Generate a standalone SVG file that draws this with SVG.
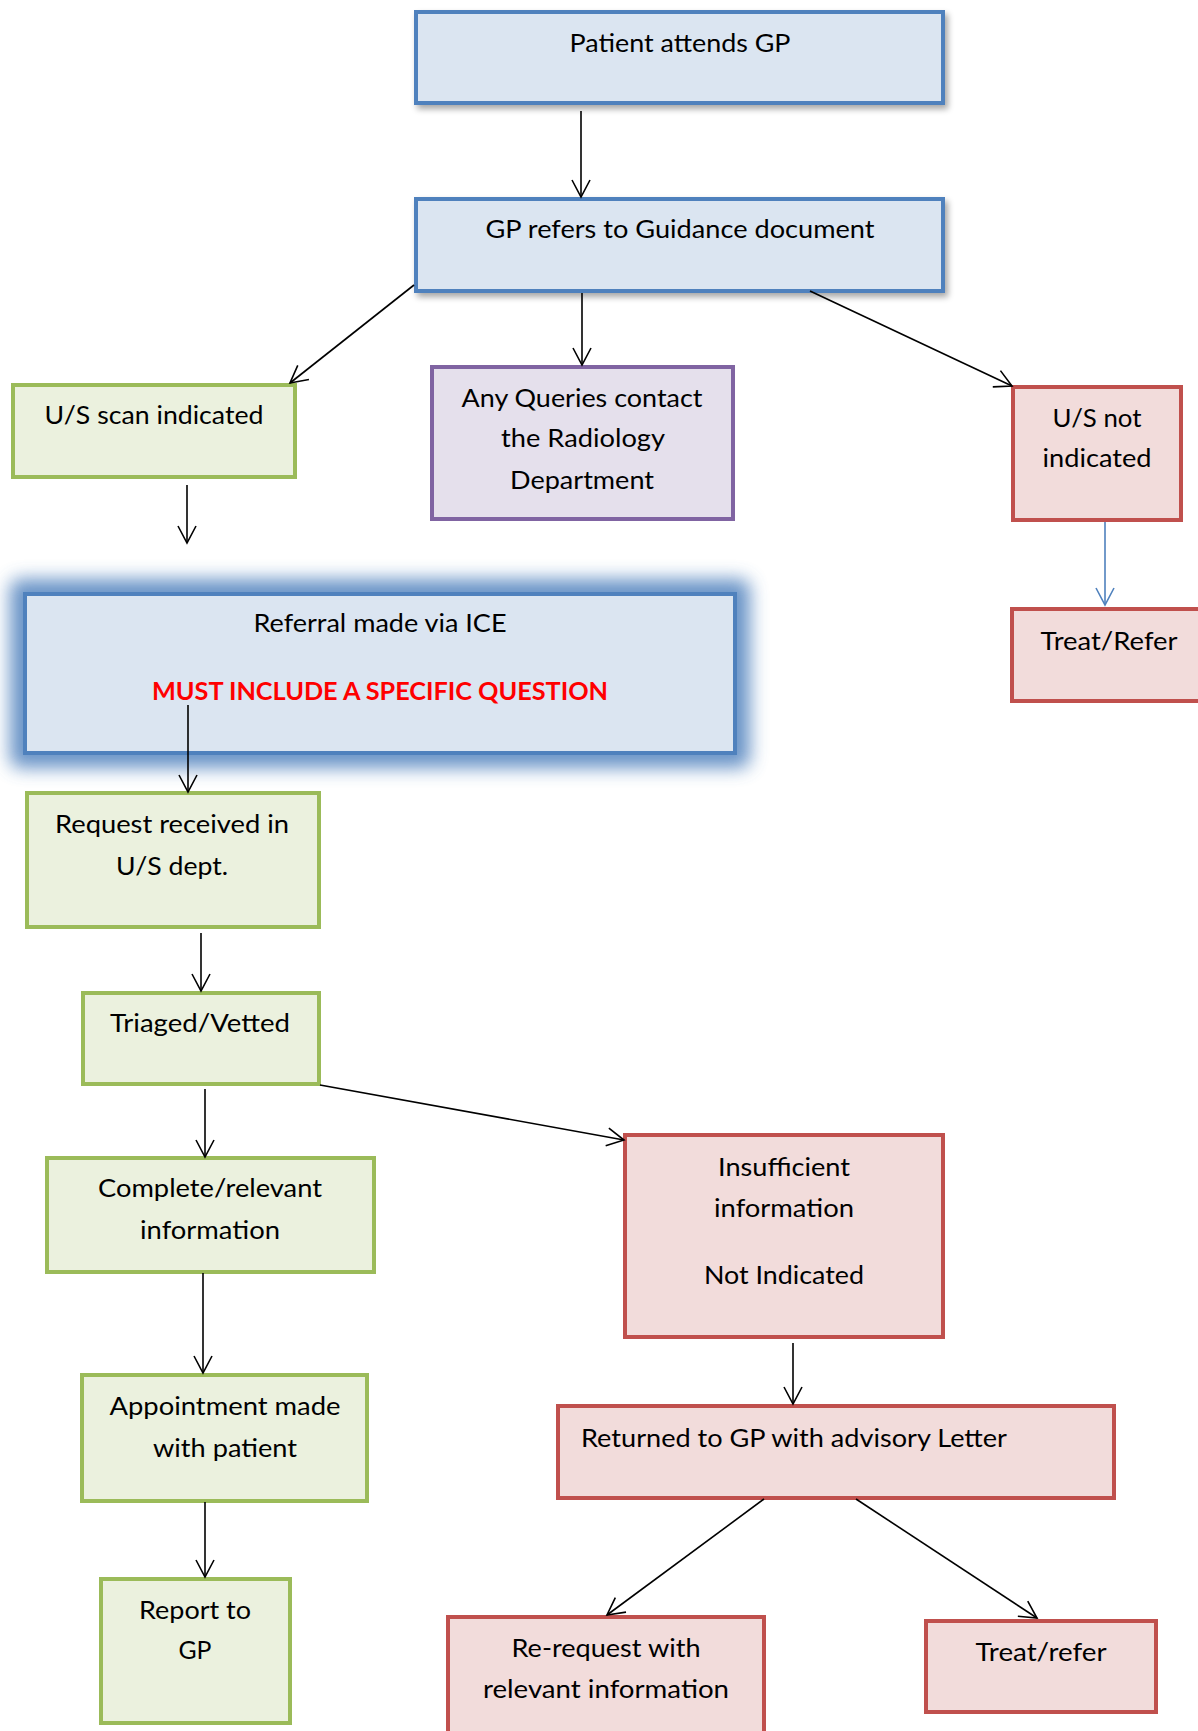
<svg xmlns="http://www.w3.org/2000/svg" width="1198" height="1731" viewBox="0 0 1198 1731">
<style>
.t{font-family:Lato,"Open Sans","Liberation Sans",sans-serif;font-size:25px;fill:#000;text-anchor:middle}
.r{font-weight:bold;fill:#FF0000}
.blue{fill:#DBE5F1;stroke:#4F81BD;stroke-width:4}
.green{fill:#EBF1DE;stroke:#9BBB59;stroke-width:4}
.red{fill:#F2DCDB;stroke:#C0504D;stroke-width:4}
.purple{fill:#E5E0EC;stroke:#8064A2;stroke-width:4}
.c{fill:none;stroke:#000;stroke-width:1.6;marker-end:url(#ah)}
.cb{fill:none;stroke:#4F81BD;stroke-width:1.6;marker-end:url(#ahb)}
</style>
<defs>
<marker id="ah" markerUnits="userSpaceOnUse" markerWidth="24" markerHeight="24" viewBox="-20 -12 24 24" refX="0" refY="0" orient="auto" overflow="visible">
<path d="M-17,-9 L0,0 L-17,9" fill="none" stroke="#000" stroke-width="1.6"/>
</marker>
<marker id="ahb" markerUnits="userSpaceOnUse" markerWidth="24" markerHeight="24" viewBox="-20 -12 24 24" refX="0" refY="0" orient="auto" overflow="visible">
<path d="M-17,-9 L0,0 L-17,9" fill="none" stroke="#4F81BD" stroke-width="1.6"/>
</marker>
<filter id="shadow" x="-10%" y="-20%" width="130%" height="160%">
<feGaussianBlur in="SourceAlpha" stdDeviation="3"/>
<feOffset dx="3" dy="4" result="b"/>
<feComponentTransfer><feFuncA type="linear" slope="0.35"/></feComponentTransfer>
<feMerge><feMergeNode/><feMergeNode in="SourceGraphic"/></feMerge>
</filter>
<filter id="glow" x="-20%" y="-50%" width="140%" height="200%">
<feGaussianBlur stdDeviation="9"/>
</filter>
</defs>
<rect width="1198" height="1731" fill="#fff"/>

<g id="n1"><rect class="blue" x="416" y="12" width="527" height="91" filter="url(#shadow)"/>
<text class="t" x="680" y="52" textLength="221" lengthAdjust="spacingAndGlyphs">Patient attends GP</text></g>

<g id="n2"><rect class="blue" x="416" y="199" width="527" height="92" filter="url(#shadow)"/>
<text class="t" x="680" y="238" textLength="389" lengthAdjust="spacingAndGlyphs">GP refers to Guidance document</text></g>

<g id="n3"><rect class="green" x="13" y="385" width="282" height="92"/>
<text class="t" x="154" y="424" textLength="219" lengthAdjust="spacingAndGlyphs">U/S scan indicated</text></g>

<g id="n4"><rect class="purple" x="432" y="367" width="301" height="152"/>
<text class="t" x="582" y="407" textLength="241" lengthAdjust="spacingAndGlyphs">Any Queries contact</text>
<text class="t" x="583" y="447" textLength="164" lengthAdjust="spacingAndGlyphs">the Radiology</text>
<text class="t" x="582" y="489" textLength="144" lengthAdjust="spacingAndGlyphs">Department</text></g>

<g id="n5"><rect class="red" x="1013" y="387" width="168" height="133"/>
<text class="t" x="1097" y="427" textLength="89" lengthAdjust="spacingAndGlyphs">U/S not</text>
<text class="t" x="1097" y="467" textLength="109" lengthAdjust="spacingAndGlyphs">indicated</text></g>

<g id="n6"><rect class="red" x="1012" y="609" width="200" height="92"/>
<text class="t" x="1109" y="650" textLength="137" lengthAdjust="spacingAndGlyphs">Treat/Refer</text></g>

<g id="n7"><rect x="10" y="579" width="740" height="189" rx="10" fill="#4F81BD" opacity="0.85" filter="url(#glow)"/>
<rect class="blue" x="25" y="594" width="710" height="159"/>
<text class="t" x="380" y="632" textLength="253" lengthAdjust="spacingAndGlyphs">Referral made via ICE</text>
<text class="t r" x="380" y="700" textLength="456" lengthAdjust="spacingAndGlyphs">MUST INCLUDE A SPECIFIC QUESTION</text></g>

<g id="n8"><rect class="green" x="27" y="793" width="292" height="134"/>
<text class="t" x="172" y="833" textLength="234" lengthAdjust="spacingAndGlyphs">Request received in</text>
<text class="t" x="172" y="875" textLength="112" lengthAdjust="spacingAndGlyphs">U/S dept.</text></g>

<g id="n9"><rect class="green" x="83" y="993" width="236" height="91"/>
<text class="t" x="200" y="1032" textLength="180" lengthAdjust="spacingAndGlyphs">Triaged/Vetted</text></g>

<g id="n10"><rect class="green" x="47" y="1158" width="327" height="114"/>
<text class="t" x="210" y="1197" textLength="224" lengthAdjust="spacingAndGlyphs">Complete/relevant</text>
<text class="t" x="210" y="1239" textLength="140" lengthAdjust="spacingAndGlyphs">information</text></g>

<g id="n11"><rect class="red" x="625" y="1135" width="318" height="202"/>
<text class="t" x="784" y="1176" textLength="132" lengthAdjust="spacingAndGlyphs">Insufficient</text>
<text class="t" x="784" y="1217" textLength="140" lengthAdjust="spacingAndGlyphs">information</text>
<text class="t" x="784" y="1284" textLength="160" lengthAdjust="spacingAndGlyphs">Not Indicated</text></g>

<g id="n12"><rect class="red" x="558" y="1406" width="556" height="92"/>
<text class="t" x="794" y="1447" textLength="426" lengthAdjust="spacingAndGlyphs">Returned to GP with advisory Letter</text></g>

<g id="n13"><rect class="green" x="82" y="1375" width="285" height="126"/>
<text class="t" x="225" y="1415" textLength="231" lengthAdjust="spacingAndGlyphs">Appointment made</text>
<text class="t" x="225" y="1457" textLength="144" lengthAdjust="spacingAndGlyphs">with patient</text></g>

<g id="n14"><rect class="green" x="101" y="1579" width="189" height="144"/>
<text class="t" x="195" y="1619" textLength="112" lengthAdjust="spacingAndGlyphs">Report to</text>
<text class="t" x="195" y="1659" textLength="33" lengthAdjust="spacingAndGlyphs">GP</text></g>

<g id="n15"><rect class="red" x="448" y="1617" width="316" height="140"/>
<text class="t" x="606" y="1657" textLength="189" lengthAdjust="spacingAndGlyphs">Re-request with</text>
<text class="t" x="606" y="1698" textLength="246" lengthAdjust="spacingAndGlyphs">relevant information</text></g>

<g id="n16"><rect class="red" x="926" y="1621" width="230" height="91"/>
<text class="t" x="1041" y="1661" textLength="131" lengthAdjust="spacingAndGlyphs">Treat/refer</text></g>

<g id="connectors">
<line class="c" x1="581" y1="111" x2="581" y2="197"/>
<line class="c" x1="414" y1="285" x2="290" y2="383"/>
<line class="c" x1="582" y1="293" x2="582" y2="365"/>
<line class="c" x1="810" y1="291" x2="1012" y2="386"/>
<line class="c" x1="187" y1="485" x2="187" y2="543"/>
<line class="cb" x1="1105" y1="522" x2="1105" y2="605"/>
<line class="c" x1="188" y1="705" x2="188" y2="792"/>
<line class="c" x1="201" y1="933" x2="201" y2="991"/>
<line class="c" x1="205" y1="1089" x2="205" y2="1157"/>
<line class="c" x1="320" y1="1085" x2="624" y2="1140"/>
<line class="c" x1="203" y1="1273" x2="203" y2="1373"/>
<line class="c" x1="793" y1="1343" x2="793" y2="1404"/>
<line class="c" x1="205" y1="1502" x2="205" y2="1577"/>
<line class="c" x1="764" y1="1499" x2="607" y2="1615"/>
<line class="c" x1="856" y1="1499" x2="1037" y2="1618"/>
</g>
</svg>
